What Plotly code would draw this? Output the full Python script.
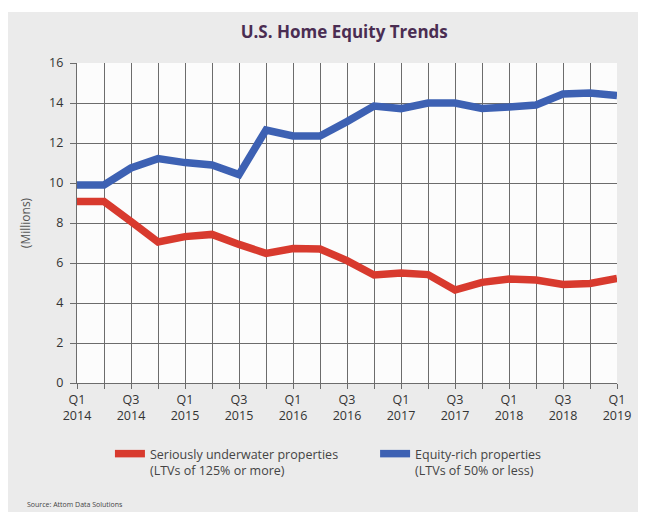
import plotly.graph_objects as go

quarters = ["Q1 2014", "Q2 2014", "Q3 2014", "Q4 2014",
            "Q1 2015", "Q2 2015", "Q3 2015", "Q4 2015",
            "Q1 2016", "Q2 2016", "Q3 2016", "Q4 2016",
            "Q1 2017", "Q2 2017", "Q3 2017", "Q4 2017",
            "Q1 2018", "Q2 2018", "Q3 2018", "Q4 2018",
            "Q1 2019"]

underwater = [9.07, 9.07, 8.07, 7.05, 7.32, 7.43, 6.93, 6.48,
              6.72, 6.70, 6.12, 5.40, 5.50, 5.42, 4.65, 5.03,
              5.20, 5.15, 4.93, 4.98, 5.23]

equity_rich = [9.9, 9.9, 10.75, 11.22, 11.02, 10.9, 10.42, 12.65,
               12.35, 12.35, 13.07, 13.85, 13.72, 14.0, 14.0, 13.73,
               13.8, 13.9, 14.45, 14.5, 14.37]

tick_labels = ["Q1<br>2014", "Q3<br>2014", "Q1<br>2015", "Q3<br>2015",
               "Q1<br>2016", "Q3<br>2016", "Q1<br>2017", "Q3<br>2017",
               "Q1<br>2018", "Q3<br>2018", "Q1<br>2019"]

x_idx = list(range(len(quarters)))
tick_idx = x_idx[::2]

RED = "#d83a2e"
BLUE = "#3d61b3"
GRID = "#6c6c6c"
BG = "#ebebeb"
FONT = "Open Sans"

fig = go.Figure()
fig.add_trace(go.Scatter(
    x=x_idx, y=underwater, mode="lines",
    name="Seriously underwater properties<br>(LTVs of 125% or more)",
    line=dict(color=RED, width=7.5), text=quarters, hoverinfo="text+y",
    legend="legend"))
fig.add_trace(go.Scatter(
    x=x_idx, y=equity_rich, mode="lines",
    name="Equity-rich properties<br>(LTVs of 50% or less)",
    line=dict(color=BLUE, width=7.5), text=quarters, hoverinfo="text+y",
    legend="legend2"))

legend_common = dict(orientation="h", xanchor="left", yanchor="top", y=-0.175,
                     valign="top", bgcolor="rgba(0,0,0,0)", itemwidth=30,
                     font=dict(family=FONT, size=12.5, color="#444444"))

fig.update_layout(
    width=638, height=504,
    margin=dict(l=69, r=29, t=55, b=129),
    paper_bgcolor=BG, plot_bgcolor="#fcfcfc",
    font=dict(family=FONT, color="#333333"),
    title=dict(text="<b>U.S. Home Equity Trends</b>", x=0.527, xanchor="center",
               y=0.952, yanchor="middle",
               font=dict(family=FONT, size=17, color="#4a2d52")),
    showlegend=True,
    legend=dict(x=0.061, **legend_common),
    legend2=dict(x=0.552, **legend_common),
    xaxis=dict(range=[0, 20], tickvals=tick_idx, ticktext=tick_labels,
               showgrid=True, gridcolor=GRID, gridwidth=1.3,
               minor=dict(dtick=1, tick0=0, showgrid=True, gridcolor=GRID, gridwidth=1.3,
                          ticks="outside", ticklen=5, tickcolor=GRID),
               ticks="outside", ticklen=5, tickcolor=GRID,
               showline=True, linecolor=GRID, linewidth=1.3,
               tickfont=dict(family=FONT, size=12.5, color="#333333"),
               zeroline=False, fixedrange=True),
    yaxis=dict(range=[0, 16], dtick=2, tick0=0,
               showgrid=True, gridcolor=GRID, gridwidth=1.3,
               ticks="outside", ticklen=6, tickcolor=GRID,
               ticklabelstandoff=4,
               showline=True, linecolor=GRID, linewidth=1.3,
               tickfont=dict(family=FONT, size=12.5, color="#333333"),
               title=dict(text="(Millions)", standoff=15,
                          font=dict(family=FONT, size=12, color="#555555")),
               zeroline=False, fixedrange=True),
    shapes=[
        dict(type="rect", xref="paper", yref="paper", x0=-0.2, x1=1.2, y0=1.159, y1=1.25,
             fillcolor="white", line=dict(width=0), layer="below"),
    ],
    annotations=[
        dict(text="Source: Attom Data Solutions", xref="paper", yref="paper",
             x=-0.0963, y=-0.381, xanchor="left", yanchor="middle", showarrow=False,
             font=dict(family=FONT, size=7, color="#444444")),
    ],
)

fig.write_html("out.html")
